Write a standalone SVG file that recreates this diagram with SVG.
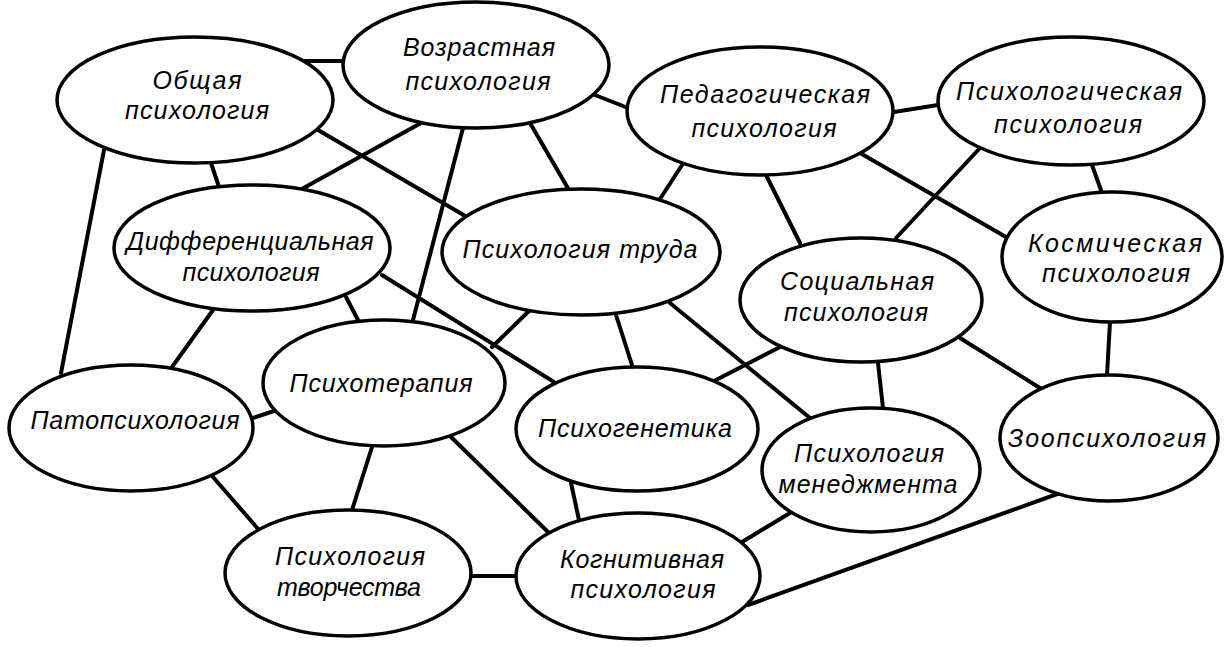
<svg xmlns="http://www.w3.org/2000/svg" width="1227" height="647" viewBox="0 0 1227 647">
<style>
.n ellipse{fill:#fff;stroke:#000;stroke-width:3.5}
.n text{font-family:"Liberation Sans",Arial,sans-serif;font-style:italic;font-size:25px;fill:#000;text-anchor:middle}
#edges line{stroke:#000;stroke-width:4;stroke-linecap:round}
</style>
<rect width="1227" height="647" fill="#fff"/>
<g id="edges">
<line x1="302" y1="61" x2="344" y2="61"/>
<line x1="211" y1="163" x2="219" y2="187"/>
<line x1="318" y1="130" x2="467" y2="217"/>
<line x1="104" y1="150" x2="61" y2="373"/>
<line x1="421" y1="123" x2="300" y2="190"/>
<line x1="463" y1="128" x2="413" y2="320"/>
<line x1="530" y1="123" x2="569" y2="190"/>
<line x1="595" y1="95" x2="628" y2="108"/>
<line x1="382" y1="275" x2="554" y2="382"/>
<line x1="346" y1="297" x2="358" y2="320"/>
<line x1="213" y1="310" x2="172" y2="367"/>
<line x1="530" y1="310" x2="492" y2="347"/>
<line x1="616" y1="315" x2="632" y2="365"/>
<line x1="670" y1="303" x2="810" y2="418"/>
<line x1="684" y1="162" x2="658" y2="202"/>
<line x1="766" y1="175" x2="800" y2="243"/>
<line x1="860" y1="153" x2="1006" y2="237"/>
<line x1="894" y1="112" x2="938" y2="105"/>
<line x1="980" y1="148" x2="896" y2="238"/>
<line x1="1092" y1="165" x2="1102" y2="193"/>
<line x1="1110" y1="322" x2="1107" y2="375"/>
<line x1="960" y1="338" x2="1040" y2="388"/>
<line x1="878" y1="363" x2="883" y2="408"/>
<line x1="780" y1="347" x2="714" y2="381"/>
<line x1="790" y1="513" x2="742" y2="542"/>
<line x1="1060" y1="493" x2="748" y2="605"/>
<line x1="253" y1="418" x2="277" y2="410"/>
<line x1="213" y1="477" x2="259" y2="530"/>
<line x1="372" y1="447" x2="352" y2="510"/>
<line x1="451" y1="437" x2="548" y2="532"/>
<line x1="471" y1="576" x2="516" y2="576"/>
<line x1="571" y1="483" x2="579" y2="520"/>
</g>
<g id="n-obshchaya" class="n"><ellipse cx="195" cy="100" rx="138" ry="63"/><text x="197" y="89" textLength="89">Общая</text><text x="197" y="119" textLength="144">психология</text></g>
<g id="n-vozrastnaya" class="n"><ellipse cx="476" cy="65" rx="133" ry="63"/><text x="479" y="56" textLength="152">Возрастная</text><text x="478" y="90" textLength="145">психология</text></g>
<g id="n-pedagogicheskaya" class="n"><ellipse cx="760" cy="111" rx="133" ry="64"/><text x="765" y="103" textLength="210">Педагогическая</text><text x="764" y="137" textLength="145">психология</text></g>
<g id="n-psikhologicheskaya" class="n"><ellipse cx="1071" cy="101" rx="133" ry="64"/><text x="1069" y="100" textLength="226">Психологическая</text><text x="1068" y="133" textLength="148">психология</text></g>
<g id="n-differentsialnaya" class="n"><ellipse cx="252" cy="248" rx="138" ry="63"/><text x="250" y="250" textLength="247">Дифференциальная</text><text x="251" y="281" textLength="137">психология</text></g>
<g id="n-truda" class="n"><ellipse cx="581" cy="252" rx="139" ry="63"/><text x="580" y="258" textLength="235">Психология труда</text></g>
<g id="n-kosmicheskaya" class="n"><ellipse cx="1112" cy="257" rx="110" ry="65"/><text x="1115" y="252" textLength="174">Космическая</text><text x="1116" y="282" textLength="148">психология</text></g>
<g id="n-sotsialnaya" class="n"><ellipse cx="861" cy="300" rx="121" ry="62"/><text x="857" y="290" textLength="154">Социальная</text><text x="856" y="321" textLength="144">психология</text></g>
<g id="n-patopsikhologiya" class="n"><ellipse cx="131" cy="428" rx="122" ry="63"/><text x="135" y="429" textLength="209">Патопсихология</text></g>
<g id="n-psikhoterapiya" class="n"><ellipse cx="384" cy="383" rx="121" ry="63"/><text x="381" y="392" textLength="183">Психотерапия</text></g>
<g id="n-psikhogenetika" class="n"><ellipse cx="637" cy="429" rx="121" ry="62"/><text x="635" y="437" textLength="194">Психогенетика</text></g>
<g id="n-menedzhmenta" class="n"><ellipse cx="871" cy="470" rx="109" ry="62"/><text x="869" y="462" textLength="150">Психология</text><text x="868" y="493" textLength="179">менеджмента</text></g>
<g id="n-zoopsikhologiya" class="n"><ellipse cx="1109" cy="438" rx="109" ry="63"/><text x="1107" y="447" textLength="198">Зоопсихология</text></g>
<g id="n-tvorchestva" class="n"><ellipse cx="348" cy="573" rx="123" ry="63"/><text x="350" y="565" textLength="150">Психология</text><text x="349" y="596" textLength="144">творчества</text></g>
<g id="n-kognitivnaya" class="n"><ellipse cx="638" cy="576" rx="122" ry="63"/><text x="642" y="568" textLength="164">Когнитивная</text><text x="643" y="598" textLength="145">психология</text></g>
</svg>
